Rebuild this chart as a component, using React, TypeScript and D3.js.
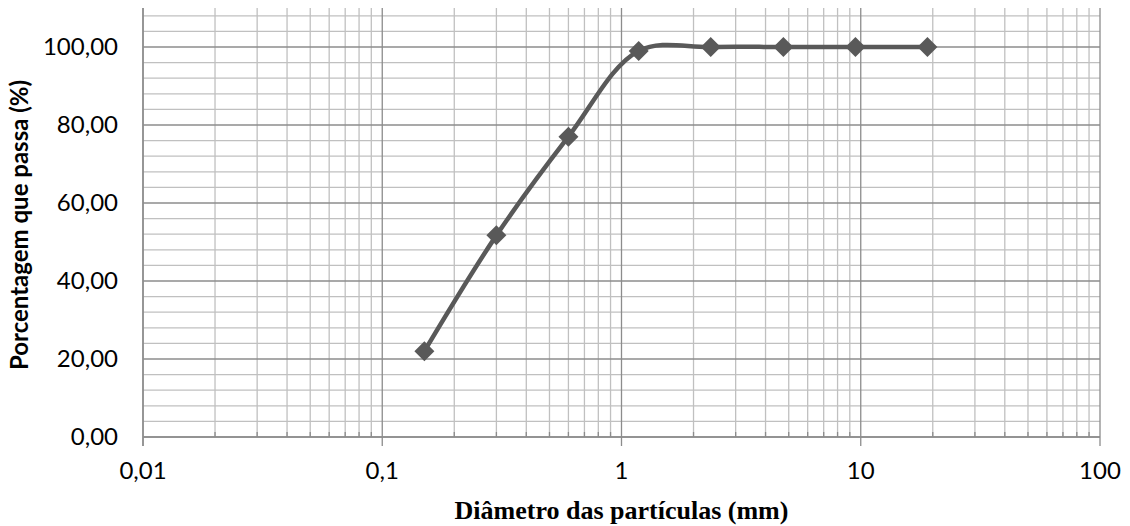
import React from "react";
import * as d3 from "d3";

const diameters = [0.15, 0.3, 0.6, 1.18, 2.36, 4.75, 9.5, 19];
const passing = [22.0, 51.7, 77.0, 99.0, 100.0, 100.0, 100.0, 100.0];
const xTickValues = [0.01, 0.1, 1, 10, 100];
const xTickLabels = ["0,01", "0,1", "1", "10", "100"];
const yTickValues = [0, 20, 40, 60, 80, 100];
const yTickLabels = ["0,00", "20,00", "40,00", "60,00", "80,00", "100,00"];

const W = 1130, H = 526;
const L = 143, R = 1100, T = 8, B = 437;
const SANS = "Lato, 'Open Sans', sans-serif";

export default function App() {
  const x = d3.scaleLog().domain([0.01, 100]).range([L, R]);
  const y = d3.scaleLinear().domain([0, 110]).range([B, T]);

  const minorX: number[] = [];
  for (let d = 0.01; d < 100; d *= 10) {
    for (let k = 2; k <= 9; k++) minorX.push(+(d * k).toPrecision(3));
  }
  const minorY: number[] = [];
  for (let v = 0; v <= 110; v += 4) if (v % 20 !== 0) minorY.push(v);
  const majorY = [...yTickValues];

  const pts: [number, number][] = diameters.map((d, i) => [x(d), y(passing[i])]);
  const line = d3.line().curve(d3.curveCatmullRom.alpha(0.5))(pts) || "";

  return (
    <svg width={W} height={H} style={{ position: "absolute", left: 0, top: 0 }}>
      <rect width={W} height={H} fill="#fff" />
      {minorY.map((v) => (
        <line key={"my" + v} x1={L} x2={R} y1={y(v)} y2={y(v)} stroke="#c0c0c0" strokeWidth={1.3} />
      ))}
      {minorX.map((v) => (
        <line key={"mx" + v} x1={x(v)} x2={x(v)} y1={T} y2={B} stroke="#c0c0c0" strokeWidth={1.3} />
      ))}
      {majorY.map((v) => (
        <line key={"My" + v} x1={L} x2={R} y1={y(v)} y2={y(v)} stroke="#8c8c8c" strokeWidth={1.3} />
      ))}
      {xTickValues.map((v) => (
        <line key={"Mx" + v} x1={x(v)} x2={x(v)} y1={T} y2={B + 9} stroke="#8c8c8c" strokeWidth={1.3} />
      ))}
      {minorX.map((v) => (
        <line key={"tx" + v} x1={x(v)} x2={x(v)} y1={B - 5} y2={B} stroke="#8c8c8c" strokeWidth={1.3} />
      ))}
      <line x1={L} x2={R} y1={B} y2={B} stroke="#8c8c8c" strokeWidth={1.5} />
      <line x1={L} x2={L} y1={T} y2={B + 9} stroke="#8c8c8c" strokeWidth={1.5} />

      {yTickValues.map((v, i) => (
        <text key={"yl" + v} x={118} y={y(v)} dy="0.35em" textAnchor="end" fontFamily={SANS} fontSize={24} fill="#000">
          {yTickLabels[i]}
        </text>
      ))}
      {xTickValues.map((v, i) => (
        <text key={"xl" + v} x={x(v)} y={479} textAnchor="middle" fontFamily={SANS} fontSize={24} fill="#000">
          {xTickLabels[i]}
        </text>
      ))}

      <path d={line} fill="none" stroke="#595959" strokeWidth={4.5} />
      {pts.map(([px, py], i) => (
        <path key={"m" + i} d={`M${px},${py - 10}L${px + 10},${py}L${px},${py + 10}L${px - 10},${py}Z`} fill="#595959" />
      ))}

      <text x={(L + R) / 2} y={519} textAnchor="middle" fontFamily="'Liberation Serif', 'Times New Roman', serif" fontWeight="bold" fontSize={26} fill="#000">
        Diâmetro das partículas (mm)
      </text>
      <text transform={`translate(28,225) rotate(-90)`} textAnchor="middle" fontFamily={SANS} fontWeight="bold" fontSize={24} fill="#000">
        Porcentagem que passa (%)
      </text>
    </svg>
  );
}
